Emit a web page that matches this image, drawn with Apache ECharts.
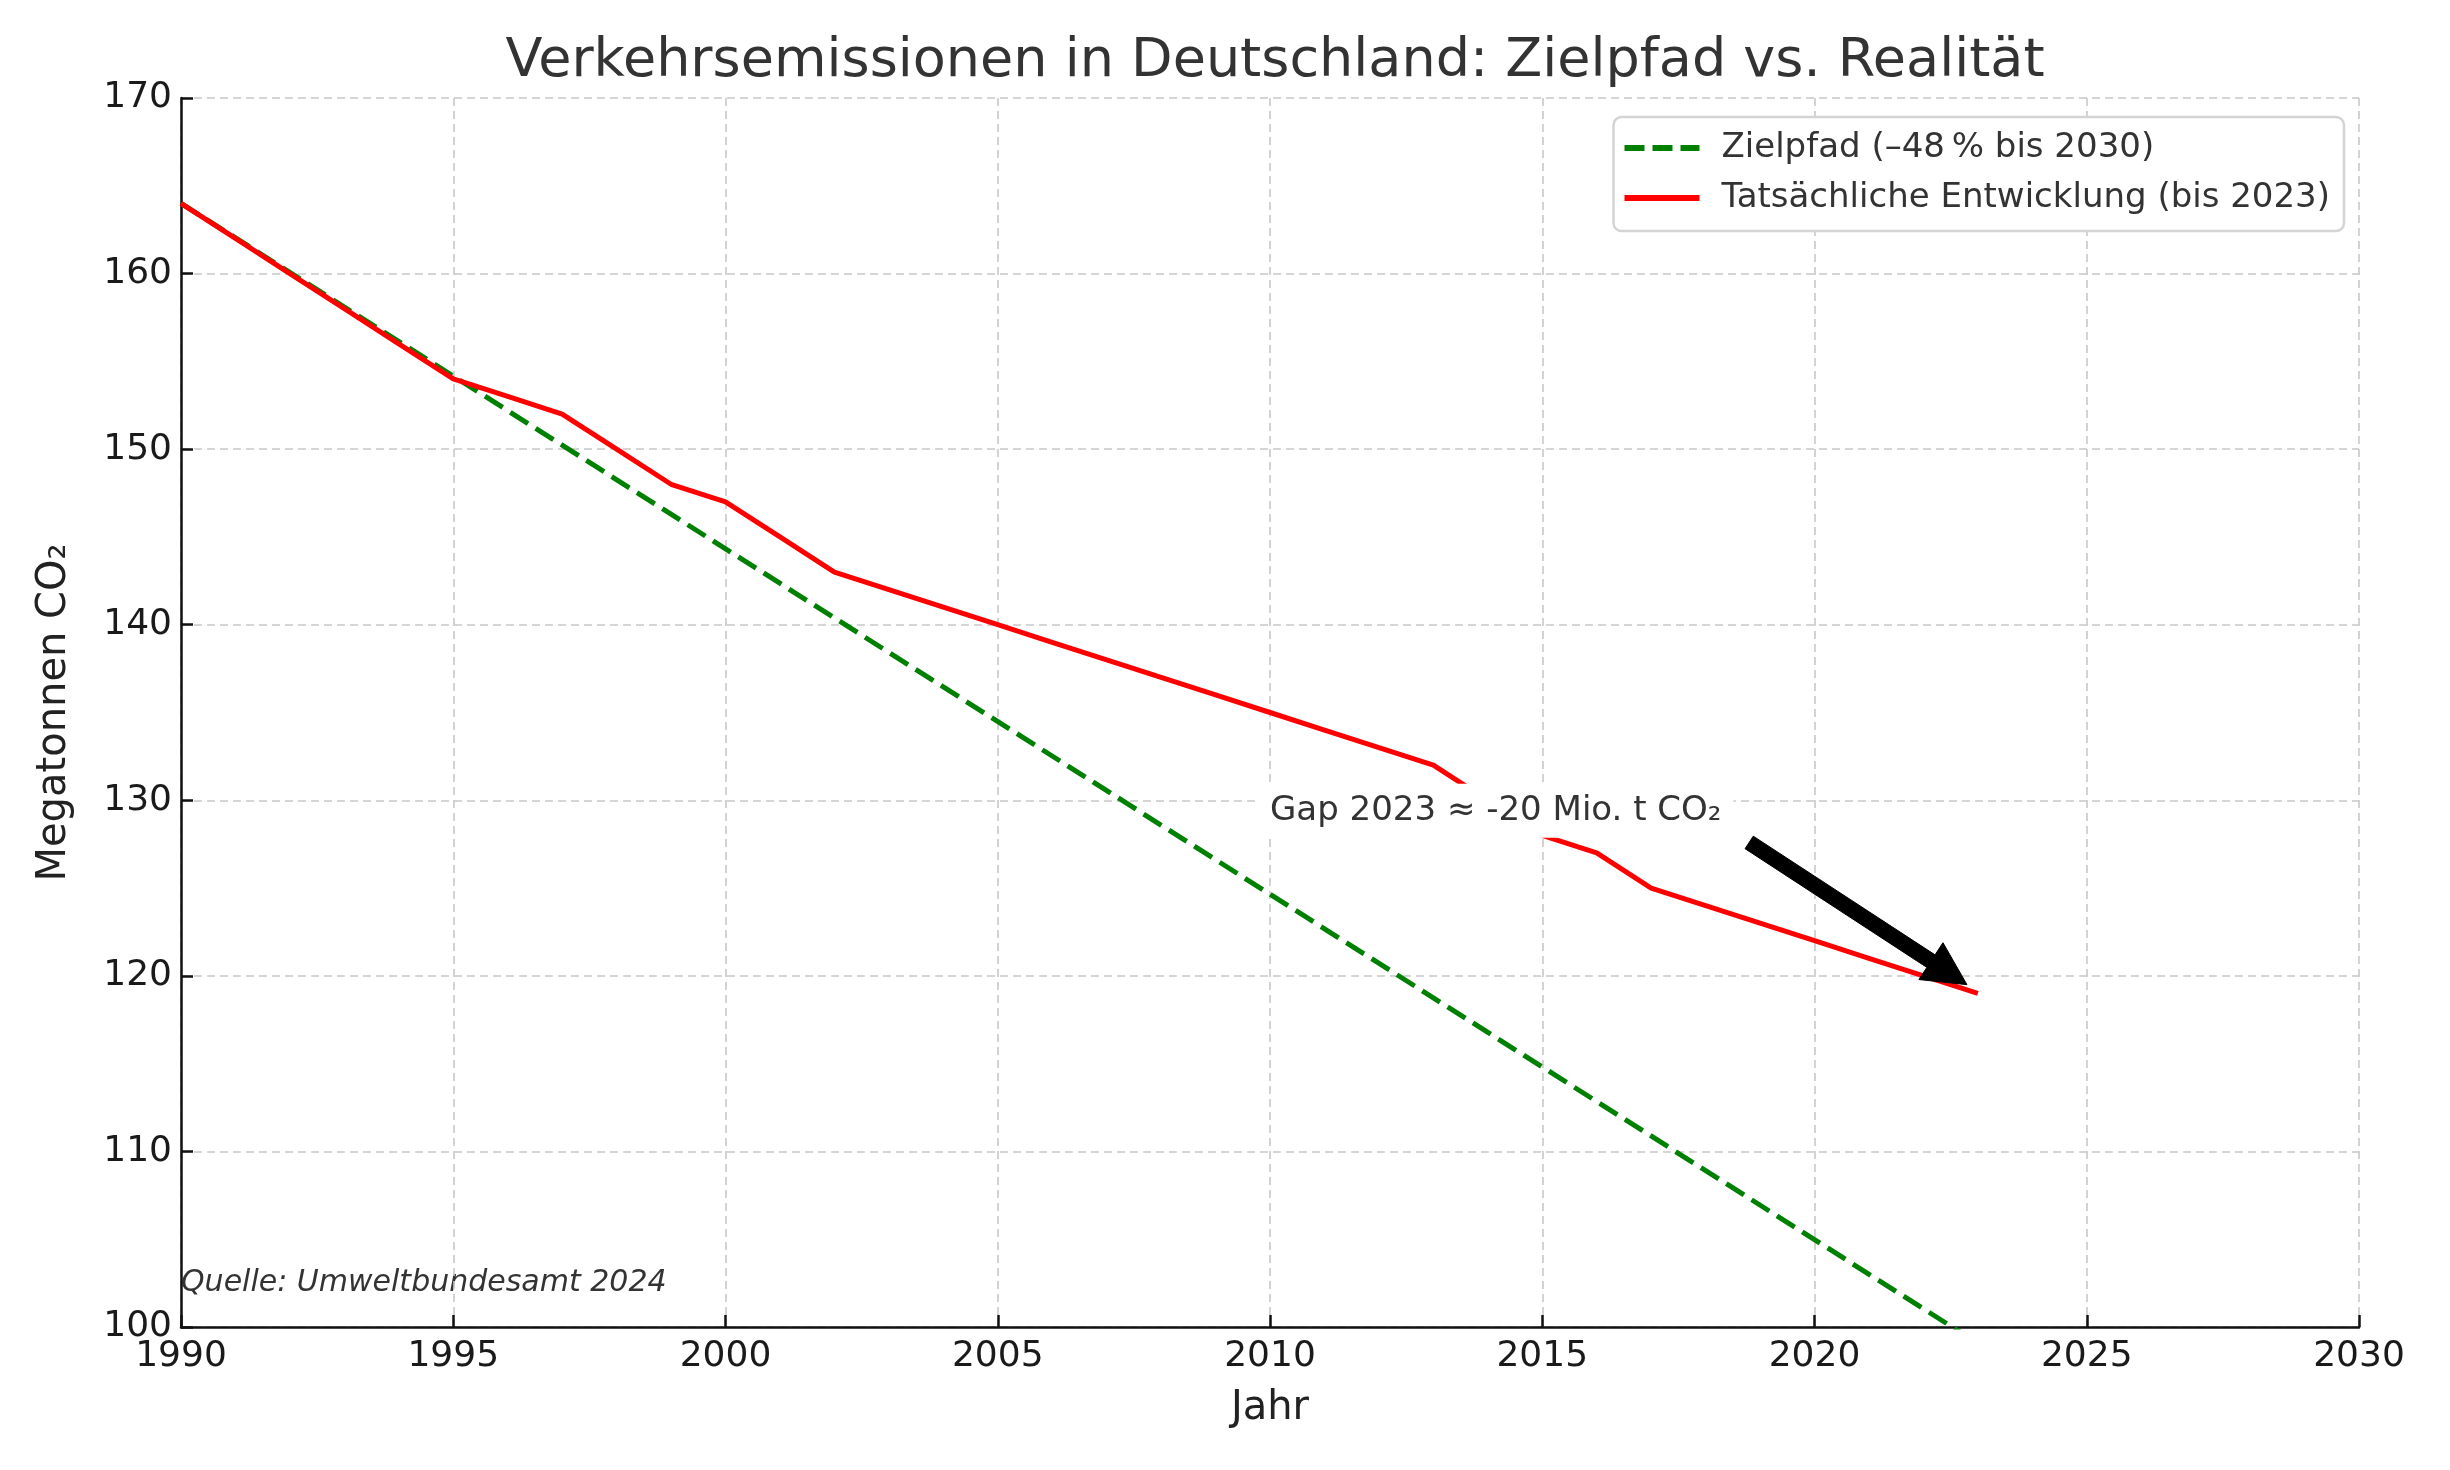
<!DOCTYPE html>
<html>
<head>
<meta charset="utf-8">
<title>Verkehrsemissionen in Deutschland</title>
<script src="https://cdn.jsdelivr.net/npm/echarts@6/dist/echarts.min.js"></script>
<style>
  html, body { margin: 0; padding: 0; background: #fff; }
  #chart { width: 2450px; height: 1470px; }
</style>
</head>
<body>
<div id="chart"></div>
<script>
// Tatsächliche Emissionen (Mt CO2)
var years = [1990, 1991, 1992, 1993, 1994, 1995, 1996, 1997, 1998, 1999,
  2000, 2001, 2002, 2003, 2004, 2005, 2006, 2007, 2008, 2009,
  2010, 2011, 2012, 2013, 2014, 2015, 2016, 2017, 2018, 2019,
  2020, 2021, 2022, 2023];
var actual = [164, 162, 160, 158, 156, 154, 153, 152, 150, 148,
  147, 145, 143, 142, 141, 140, 139, 138, 137, 136,
  135, 134, 133, 132, 130, 128, 127, 125, 124, 123,
  122, 121, 120, 119];

// Zielpfad: 1990 -> 2030 (-48 %)
var targetYears = [1990, 2030];
var targetValues = [164, 85.3];

// Annotation
var gapText = 'Gap 2023 \u2248 -20 Mio. t CO\u2082';
var gapTextAt = [2010, 129.4];
var arrowFrom = [2018.8, 127.6];
var arrowTo = [2022.8, 119.5];

var nameTarget = 'Zielpfad (\u201348\u202f% bis 2030)';
var nameActual = 'Tats\u00e4chliche Entwicklung (bis 2023)';

var FONT = '"DejaVu Sans", Verdana, sans-serif';

var chart = echarts.init(document.getElementById('chart'));

var actualData = [];
for (var i = 0; i < years.length; i++) {
  actualData.push([years[i], actual[i]]);
}
var targetData = [];
for (var j = 0; j < targetYears.length; j++) {
  targetData.push([targetYears[j], targetValues[j]]);
}

function renderArrow(params, api) {
  var p0 = api.coord([api.value(0), api.value(1)]);
  var p1 = api.coord([api.value(2), api.value(3)]);
  var dx = p1[0] - p0[0], dy = p1[1] - p0[1];
  var len = Math.sqrt(dx * dx + dy * dy);
  var ux = dx / len, uy = dy / len;
  var nx = -uy, ny = ux;
  var sw = 7.5, hw = 22, hl = 43;
  var bx = p1[0] - ux * hl, by = p1[1] - uy * hl;
  var pts = [
    [p0[0] + nx * sw, p0[1] + ny * sw],
    [bx + nx * sw, by + ny * sw],
    [bx + nx * hw, by + ny * hw],
    [p1[0], p1[1]],
    [bx - nx * hw, by - ny * hw],
    [bx - nx * sw, by - ny * sw],
    [p0[0] - nx * sw, p0[1] - ny * sw]
  ];
  return {
    type: 'polygon',
    shape: { points: pts },
    style: { fill: '#000', stroke: '#000', lineWidth: 1 }
  };
}

function renderNote(params, api) {
  var p = api.coord([api.value(0), api.value(1)]);
  return {
    type: 'text',
    x: p[0] - 12,
    y: p[1],
    style: {
      text: gapText,
      fill: '#333',
      font: '34px ' + FONT,
      align: 'left',
      verticalAlign: 'middle',
      backgroundColor: '#fff',
      padding: [10, 12]
    }
  };
}

chart.setOption({
  animation: false,
  backgroundColor: '#fff',
  textStyle: { fontFamily: FONT },
  title: {
    text: 'Verkehrsemissionen in Deutschland: Zielpfad vs. Realit\u00e4t',
    left: 1270,
    textAlign: 'center',
    top: 30,
    textStyle: { fontSize: 54, fontWeight: 'normal', color: '#333', fontFamily: FONT }
  },
  graphic: [{
    type: 'text',
    left: 181,
    top: 1268,
    style: {
      text: 'Quelle: Umweltbundesamt 2024',
      font: 'italic 30px ' + FONT,
      fill: '#333'
    }
  }],
  legend: {
    data: [
      { name: nameTarget, icon: 'path://M0,0H20V6H0Z M28,0H48V6H28Z M56,0H75V6H56Z', itemStyle: { color: '#008000' } },
      { name: nameActual, icon: 'rect', itemStyle: { color: '#ff0000' } }
    ],
    orient: 'vertical',
    right: 106,
    top: 117,
    padding: [13, 14, 15, 11],
    itemWidth: 75,
    itemHeight: 6,
    itemGap: 14,
    borderColor: '#d4d4d4',
    borderWidth: 2.5,
    borderRadius: 8,
    backgroundColor: '#fff',
    textStyle: { fontSize: 34, lineHeight: 36, color: '#333', fontFamily: FONT, padding: [0, 0, 0, 17] }
  },
  grid: { left: 181, right: 91, top: 98, bottom: 143, containLabel: false },
  xAxis: {
    type: 'value',
    min: 1990,
    max: 2030,
    interval: 5,
    name: 'Jahr',
    nameLocation: 'middle',
    nameGap: 62,
    nameTextStyle: { fontSize: 40, color: '#222', fontFamily: FONT },
    axisLine: { show: true, lineStyle: { color: '#111', width: 2.5 } },
    axisTick: { show: true, inside: true, length: 12, lineStyle: { color: '#111', width: 2.5 } },
    axisLabel: {
      fontSize: 36, color: '#1a1a1a', margin: 12, fontFamily: FONT,
      formatter: function (v) { return String(v); }
    },
    splitLine: { show: true, lineStyle: { color: '#c8c8c8', width: 1.6, type: [8, 5] } }
  },
  yAxis: {
    type: 'value',
    min: 100,
    max: 170,
    interval: 10,
    name: 'Megatonnen CO\u2082',
    nameLocation: 'middle',
    nameGap: 106,
    nameTextStyle: { fontSize: 40, color: '#222', fontFamily: FONT },
    axisLine: { show: true, lineStyle: { color: '#111', width: 2.5 } },
    axisTick: { show: true, inside: true, length: 12, lineStyle: { color: '#111', width: 2.5 } },
    axisLabel: { fontSize: 36, color: '#1a1a1a', margin: 9, fontFamily: FONT },
    splitLine: { show: true, lineStyle: { color: '#c8c8c8', width: 1.6, type: [8, 5] } }
  },
  series: [
    {
      name: nameTarget,
      type: 'line',
      data: targetData,
      showSymbol: false,
      symbol: 'none',
      clip: true,
      z: 2,
      lineStyle: { color: '#008000', width: 5, type: [21, 9] },
      itemStyle: { color: '#008000' }
    },
    {
      name: nameActual,
      type: 'line',
      data: actualData,
      showSymbol: false,
      symbol: 'none',
      z: 3,
      lineStyle: { color: '#ff0000', width: 5 },
      itemStyle: { color: '#ff0000' }
    },
    {
      name: 'note',
      type: 'custom',
      renderItem: renderNote,
      data: [gapTextAt],
      z: 5,
      silent: true
    },
    {
      name: 'arrow',
      type: 'custom',
      renderItem: renderArrow,
      encode: { x: [0, 2], y: [1, 3] },
      data: [[arrowFrom[0], arrowFrom[1], arrowTo[0], arrowTo[1]]],
      z: 6,
      silent: true
    }
  ]
});
</script>
</body>
</html>
